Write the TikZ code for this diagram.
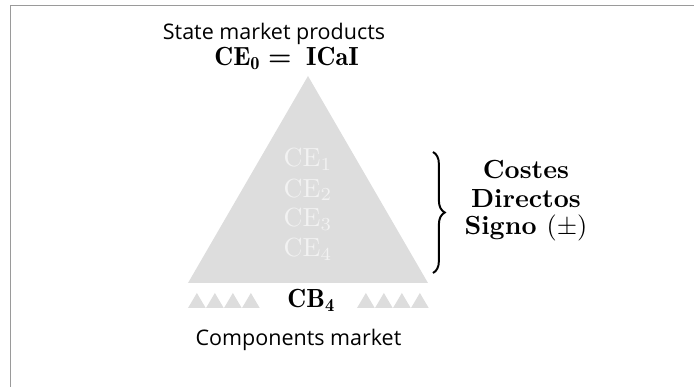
\documentclass[tikz,border=0pt]{standalone}
\usepackage{amsmath,amssymb}
\usepackage{fontspec}
\newfontfamily\capfont{Open Sans}
\usepackage{tikz}
\usetikzlibrary{decorations.pathreplacing,positioning}
\definecolor{pyrgray}{HTML}{DDDDDD}
\definecolor{framegray}{HTML}{9A9A9A}

\begin{document}
\begin{tikzpicture}[x=0.3816pt,y=-0.3816pt,
  caption/.style={font=\capfont\fontsize{8.2}{10}\selectfont,anchor=base},
  level/.style={font=\fontsize{10}{12}\selectfont,text=white!95!black,anchor=base},
  side/.style={font=\bfseries,anchor=base}]
  \useasboundingbox (0,0) rectangle (694,387);
  % frame
  \draw[framegray,line width=0.76pt] (10.5,387) -- (10.5,5.5) -- (694,5.5);
  % pyramid
  \coordinate (apex) at (308,76);
  \coordinate (bl) at (188,283);
  \coordinate (br) at (428,283);
  \fill[pyrgray] (apex) -- (br) -- (bl) -- cycle;
  \foreach \x in {188,206,224,242,357,375,393,411}
    \fill[pyrgray] (\x,308) -- ++(17.75,0) -- ++(-8.875,-15) -- cycle;
  \foreach \i/\y in {1/167,2/197,3/227,4/257}
    \node[level] (ce\i) at (308,\y) {$\mathrm{CE}_{\i}$};
  % labels
  \node[caption] (state) at (274,40) {State market products};
  \node[anchor=base] (ce0) at (286.5,66) {$\mathbf{CE}_{\mathbf{0}} \boldsymbol{=} \mkern5mu \mathbf{ICaI}$};
  \node[anchor=base] (cb4) at (311.5,308) {$\mathbf{CB}_{\mathbf{4}}$};
  \node[caption] (comp) at (298.5,346) {Components market};
  % brace
  \coordinate (bt) at (433,152);
  \coordinate (bb) at (433,273);
  \draw[decorate,decoration={brace,amplitude=4.5pt},line width=0.75pt] (bt) -- (bb);
  \node[side] (costes) at (526,179) {Costes};
  \node[side] (directos) at (526,207) {Directos};
  \node[side] (signo) at (526,235) {Signo $(\pm)$};
\end{tikzpicture}
\end{document}
